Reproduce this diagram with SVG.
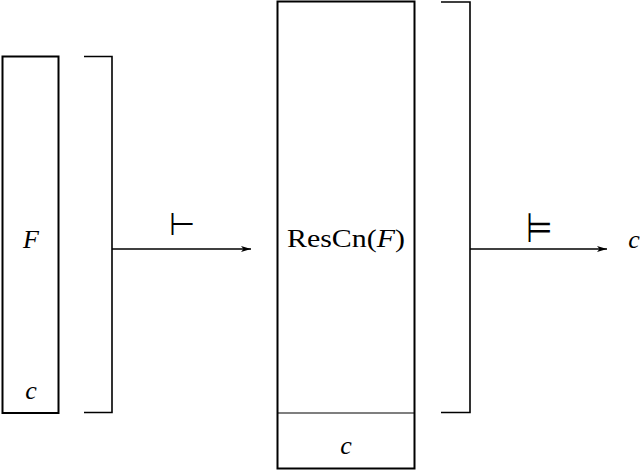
<svg xmlns="http://www.w3.org/2000/svg" width="640" height="470" viewBox="0 0 640 470">
<style>
.box{fill:none;stroke:#000;stroke-width:2}
.br{fill:none;stroke:#000;stroke-width:1.6}
.div{fill:none;stroke:#000;stroke-width:1.1}
.ar{fill:none;stroke:#000;stroke-width:1.3}
.t{font-family:"Liberation Serif","DejaVu Serif",serif;font-size:26px;fill:#000}
.i{font-style:italic}
.sym{font-family:"DejaVu Sans",sans-serif;font-size:30px;font-weight:200;fill:#000}
</style>
<defs>
<marker id="ah" viewBox="0 0 10 6" refX="10" refY="3" markerWidth="10" markerHeight="6" markerUnits="userSpaceOnUse" orient="auto">
<path d="M0,0 L10,3 L0,6 L2.5,3 Z" fill="#000"/>
</marker>
</defs>
<g id="left">
<rect class="box" x="2.5" y="56.5" width="56" height="356.5"/>
<text class="t i" x="31" y="248" text-anchor="middle">F</text>
<text class="t i" x="31" y="399" text-anchor="middle">c</text>
</g>
<g id="bracket1">
<path class="br" d="M84,56.5 H112 V412.5 H84"/>
</g>
<g id="middle">
<rect class="box" x="277.5" y="1.5" width="137" height="467"/>
<line class="div" x1="277.5" y1="413" x2="414.5" y2="413"/>
<text class="t" x="346" y="247" text-anchor="middle" textLength="118" lengthAdjust="spacingAndGlyphs">ResCn(<tspan class="i">F</tspan>)</text>
<text class="t i" x="346" y="454" text-anchor="middle">c</text>
</g>
<g id="bracket2">
<path class="br" d="M441,2 H470 V412.5 H441"/>
</g>
<g id="out">
<text class="t i" x="634" y="248" text-anchor="middle">c</text>
</g>
<g id="connectors">
<line class="ar" x1="112" y1="249" x2="251" y2="249" marker-end="url(#ah)"/>
<text class="sym" x="182" y="235" text-anchor="middle">⊢</text>
<line class="ar" x1="470" y1="249" x2="607" y2="249" marker-end="url(#ah)"/>
<text class="sym" transform="translate(539,242) scale(1,1.35)" x="0" y="0" text-anchor="middle">⊨</text>
</g>
</svg>
